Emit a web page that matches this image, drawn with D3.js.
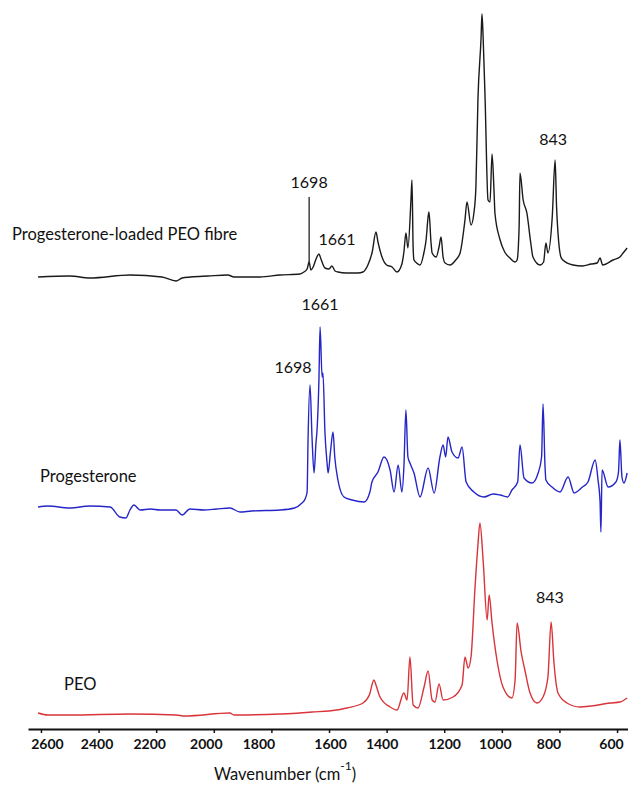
<!DOCTYPE html>
<html>
<head>
<meta charset="utf-8">
<script src="https://cdn.jsdelivr.net/npm/d3@7"></script>
<style>
body { margin: 0; background: #fff; }
svg text { font-family: Lato, "Open Sans", sans-serif; fill: #111; }
.spectrum { fill: none; stroke-width: 1.4; stroke-linejoin: round; }
.axis path, .axis line { stroke: #111; }
</style>
</head>
<body>
<div></div>
<script>
var w = 628;
var h = 790;

// tick labels on the wavenumber axis
var tickValues = [2600, 2400, 2200, 2000, 1800, 1600, 1400, 1200, 1000, 800, 600];

var seriesNames = ["Progesterone-loaded PEO fibre", "Progesterone", "PEO"];
// vertical stacking offsets (a.u.)
var seriesOffsets = [45.2, 22.2, 1.4];

// fibre spectrum, wavenumber (cm-1) and absorbance (a.u.)
var fibreWn  = [2610, 2500, 2430, 2291, 2180, 2131, 2110, 2080, 2020, 1951, 1930, 1840, 1770, 1701, 1687, 1676, 1669, 1663, 1655, 1645, 1635, 1628, 1614, 1600, 1590, 1579, 1569, 1540, 1500, 1482, 1465, 1450, 1437, 1430, 1416, 1400, 1381, 1364, 1347, 1340, 1333, 1326, 1315, 1312, 1308, 1305, 1291, 1284, 1270, 1263, 1256, 1253, 1246, 1242, 1228, 1218, 1211, 1204, 1197, 1180, 1160, 1145, 1128, 1121, 1107, 1097, 1090, 1083, 1072, 1069, 1065, 1058, 1048, 1041, 1034, 1027, 1024, 1006, 990, 972, 954, 947, 940, 937, 926, 913, 900, 892, 867, 855, 847, 840, 825, 815, 810, 805, 795, 788, 753, 720, 690, 669, 659, 650, 614, 590, 579, 565];
var fibreAbs = [0, 0.1, -0.1, 0.2, 0, -0.4, -0.1, 0, 0.1, 0.2, 0, 0, 0.2, 0.3, 0.5, 0.8, 1.5, 0.7, 1.0, 1.8, 2.3, 1.8, 0.9, 0.8, 1.1, 0.6, 0.5, 0.4, 0.4, 0.5, 1.2, 2.5, 4.5, 3.5, 2.0, 1.2, 1.0, 0.5, 1.3, 2.5, 4.4, 2.9, 8.0, 9.7, 3.0, 1.7, 1.3, 1.2, 2.5, 3.7, 6.0, 6.5, 3.5, 2.4, 2.0, 3.0, 4.0, 2.0, 1.4, 1.2, 1.7, 2.4, 5.7, 7.5, 5.2, 6.4, 9.0, 17.7, 24.0, 26.3, 24.0, 17.7, 7.7, 7.5, 12.3, 8.5, 6.4, 3.7, 2.5, 1.9, 1.5, 1.7, 5.0, 10.4, 7.7, 6.4, 3.5, 2.0, 1.2, 1.5, 3.4, 2.4, 6.0, 11.7, 7.0, 4.4, 2.0, 1.7, 1.2, 1.1, 1.3, 1.4, 1.9, 1.2, 1.7, 2.0, 2.4, 2.9];

// progesterone spectrum
var progWn  = [2610, 2576, 2500, 2430, 2360, 2326, 2305, 2291, 2277, 2256, 2220, 2187, 2131, 2110, 2083, 2034, 1990, 1944, 1909, 1870, 1770, 1720, 1694, 1683, 1676, 1673, 1666, 1659, 1652, 1645, 1642, 1635, 1631, 1624, 1621, 1614, 1607, 1603, 1595, 1586, 1580, 1569, 1548, 1520, 1478, 1458, 1451, 1430, 1409, 1388, 1374, 1360, 1347, 1340, 1333, 1326, 1319, 1305, 1284, 1256, 1235, 1215, 1204, 1195, 1187, 1173, 1152, 1138, 1124, 1097, 1062, 1030, 1006, 980, 965, 945, 937, 923, 895, 874, 862, 857, 850, 847, 826, 798, 770, 749, 720, 701, 676, 666, 659, 656, 652, 631, 604, 595, 590, 583, 576, 565];
var progAbs = [0, 0.1, -0.1, 0.1, 0, -1.0, -1.1, -0.3, 0.2, -0.3, -0.2, -0.3, -0.3, -0.8, -0.2, -0.3, -0.2, -0.1, -0.5, -0.4, -0.3, -0.1, 0.4, 0.8, 1.5, 6.4, 12.2, 7.0, 3.4, 6.5, 7.5, 12.7, 18.0, 13.0, 13.4, 7.4, 4.5, 3.4, 5.5, 7.5, 5.0, 2.7, 1.0, 0.7, 0.5, 1.5, 2.5, 3.5, 5.0, 3.7, 1.5, 4.2, 1.5, 4.0, 9.7, 5.0, 4.4, 3.4, 1.0, 3.9, 1.4, 5.0, 6.2, 5.0, 7.0, 5.5, 4.9, 6.0, 2.5, 1.5, 1.0, 1.3, 1.2, 1.0, 1.7, 2.5, 6.2, 2.9, 2.4, 3.4, 5.0, 10.3, 4.0, 2.7, 2.0, 1.5, 3.0, 1.4, 2.0, 2.5, 4.7, 2.7, 0.5, -2.5, 3.7, 2.0, 2.5, 3.5, 6.7, 3.0, 2.4, 3.4];

// PEO spectrum
var peoWn  = [2610, 2576, 2500, 2291, 2131, 2100, 1944, 1930, 1770, 1701, 1659, 1600, 1538, 1482, 1460, 1444, 1437, 1423, 1388, 1364, 1340, 1329, 1319, 1308, 1291, 1270, 1256, 1242, 1232, 1218, 1204, 1169, 1138, 1128, 1117, 1107, 1093, 1083, 1076, 1065, 1051, 1044, 1034, 1017, 996, 965, 954, 947, 933, 920, 902, 878, 857, 840, 829, 819, 805, 774, 729, 690, 624, 590, 565];
var peoAbs = [0.2, 0, 0, 0.1, 0, -0.1, 0.2, 0, 0.1, 0.2, 0.3, 0.4, 0.7, 1.2, 2.0, 3.5, 3.0, 1.8, 0.8, 0.5, 2.2, 1.5, 5.8, 1.0, 0.7, 2.8, 4.4, 1.5, 1.3, 3.1, 1.5, 1.8, 3.0, 5.8, 4.7, 5.8, 12.8, 17.0, 19.2, 15.5, 9.5, 12.0, 9.2, 5.5, 2.8, 1.7, 3.5, 9.2, 6.3, 4.5, 2.2, 1.2, 1.8, 3.8, 9.3, 5.2, 2.2, 1.2, 0.8, 0.9, 1.2, 1.3, 1.7];

// peak annotations: series index, text, wavenumber, level above baseline
var annSeries = [0, 0, 0, 1, 1, 2];
var annText   = ["1698", "1661", "843", "1661", "1698", "843"];
var annWn     = [1669, 1572, 822, 1631, 1725, 833];
var annLevel  = [8.9, 3.2, 13.2, 19.7, 13.4, 11.2];

var colors = ["#1a1a1a", "#2626c8", "#d8343a"];
// the original tick labels sit a little off their ticks
var tickLabelShift = [6, -2, -7, -8, -13, 1, -5, 0, -7, -11, -6];

var svg = d3.select("div").append("svg")
	.attr("width", w)
	.attr("height", h);

var x = d3.scaleLinear().domain([2645, 562]).range([28, 628]);
var y = d3.scaleLinear().domain([0, 72.9]).range([729, 0]);

var spectra = [
	d3.zip(fibreWn, fibreAbs),
	d3.zip(progWn, progAbs),
	d3.zip(peoWn, peoAbs)
];

spectra.forEach(function(data, i) {
	var line = d3.line()
		.x(function(d) { return x(d[0]); })
		.y(function(d) { return y(seriesOffsets[i] + d[1]); })
		.curve(d3.curveMonotoneX);

	svg.append("path")
		.datum(data)
		.attr("class", "spectrum")
		.attr("stroke", colors[i])
		.attr("d", line);
});

// marker line at 1698 on the fibre spectrum
svg.append("line")
	.attr("x1", x(1669)).attr("x2", x(1669))
	.attr("y1", y(seriesOffsets[0] + 1.5))
	.attr("y2", y(seriesOffsets[0] + 8.0))
	.attr("stroke", "#111")
	.attr("stroke-width", 1.2);

svg.selectAll("text.ann")
	.data(annText)
	.enter()
	.append("text")
	.attr("class", "ann")
	.attr("x", function(d, i) { return x(annWn[i]); })
	.attr("y", function(d, i) { return y(seriesOffsets[annSeries[i]] + annLevel[i]); })
	.attr("text-anchor", "middle")
	.style("font-size", "16px")
	.text(function(d) { return d; });

// series labels
var labelX = [12, 40, 64];
var labelY = [240, 482, 690];
svg.selectAll("text.series")
	.data(seriesNames)
	.enter()
	.append("text")
	.attr("class", "series")
	.attr("x", function(d, i) { return labelX[i]; })
	.attr("y", function(d, i) { return labelY[i]; })
	.style("font-size", "16.5px")
	.text(function(d) { return d; });

// axis
var xAxis = d3.axisBottom(x)
	.tickValues(tickValues)
	.tickFormat(d3.format("d"))
	.tickSize(4)
	.tickSizeOuter(0)
	.tickPadding(6);

var axisG = svg.append("g")
	.attr("class", "axis")
	.attr("transform", "translate(0,729)")
	.call(xAxis);

axisG.select(".domain").attr("stroke-width", 2);
axisG.selectAll(".tick line").attr("stroke-width", 1.5);
axisG.selectAll(".tick text")
	.attr("dx", function(d, i) { return tickLabelShift[i]; })
	.style("font-size", "14px")
	.style("font-weight", "bold")
	.attr("fill", "#222");

var title = svg.append("text")
	.attr("x", 285)
	.attr("y", 780)
	.attr("text-anchor", "middle")
	.style("font-size", "16.5px");
title.append("tspan").text("Wavenumber (cm");
title.append("tspan").attr("dy", -10).style("font-size", "12px").text("-1");
title.append("tspan").attr("dy", 10).text(")");
</script>
</body>
</html>
